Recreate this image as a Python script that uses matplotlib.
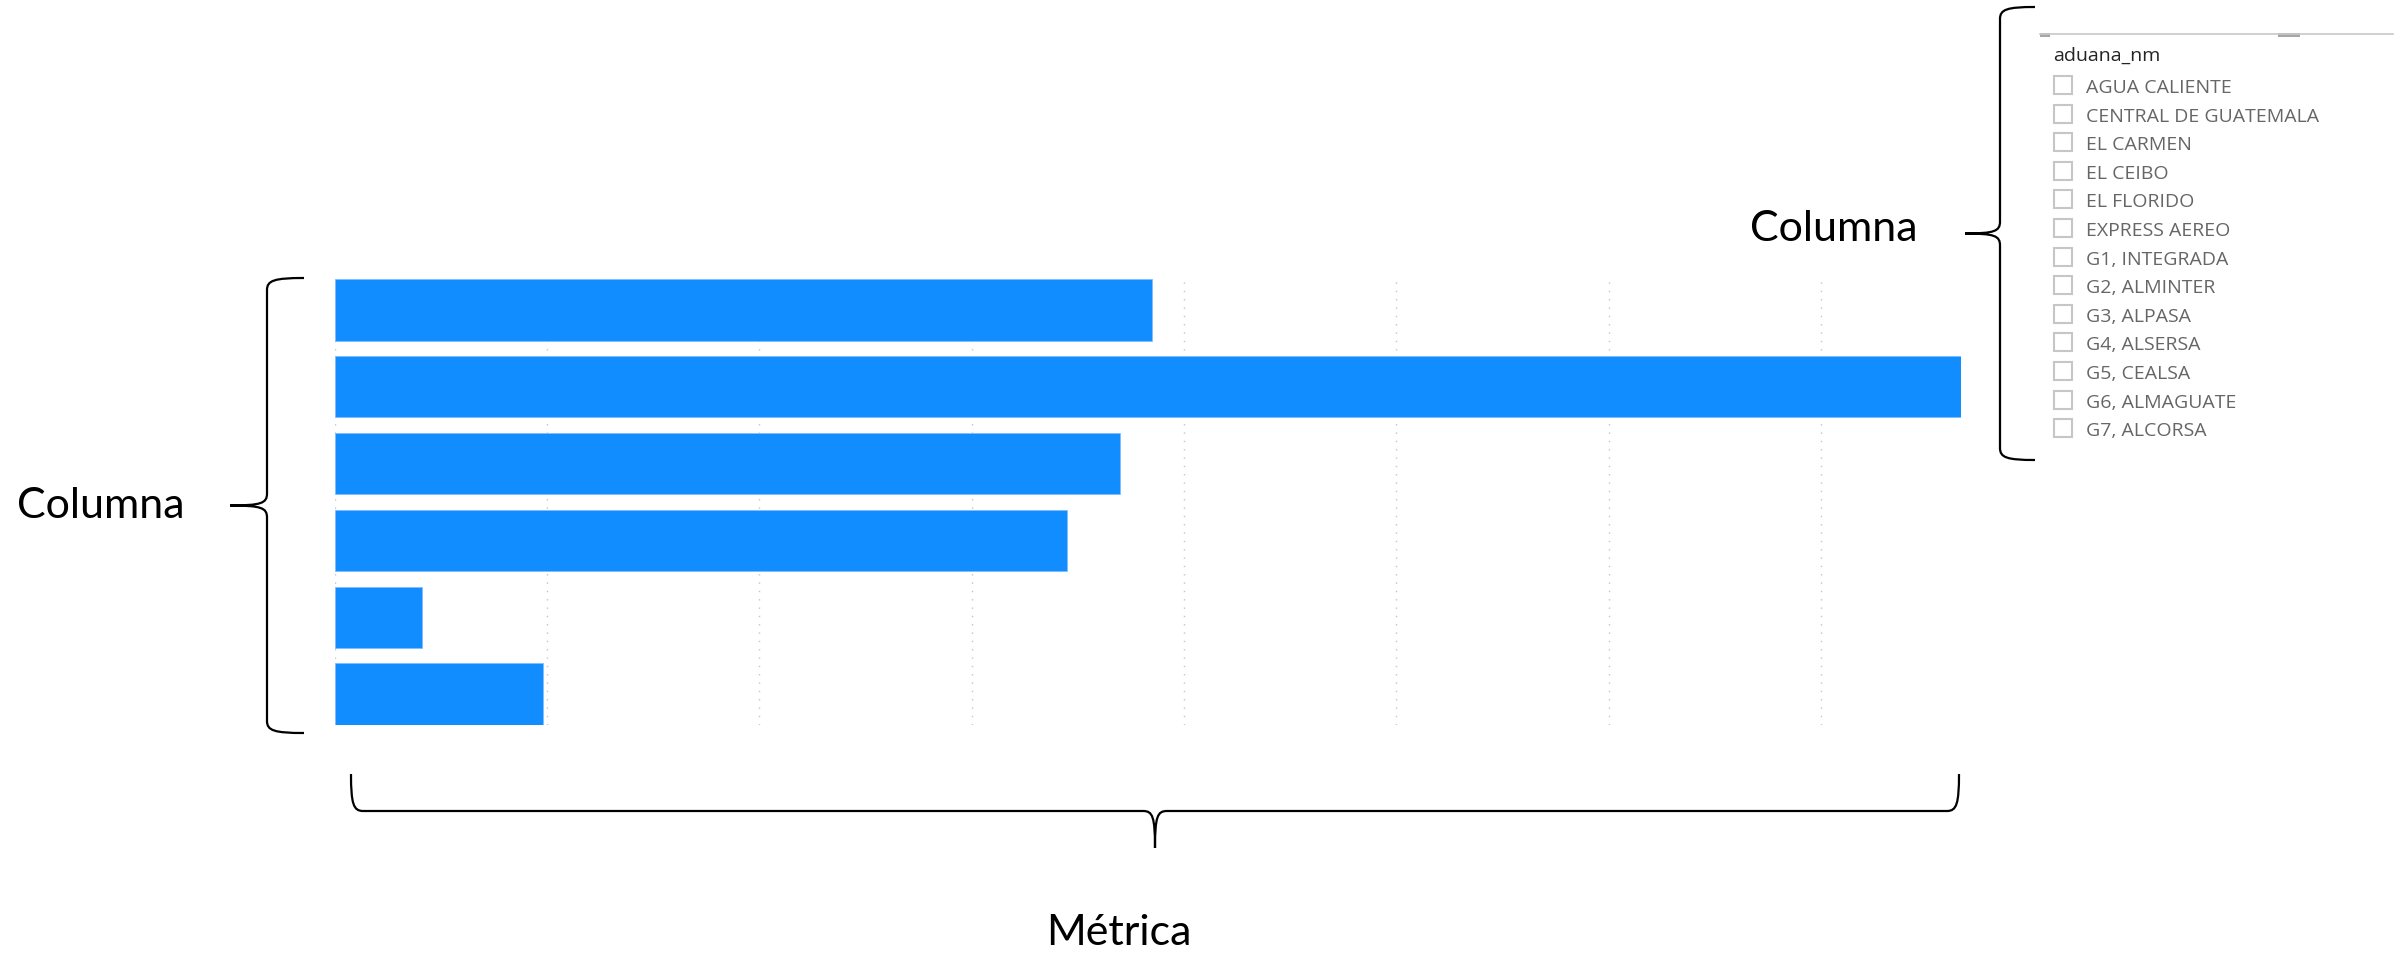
import matplotlib
matplotlib.use("Agg")
import matplotlib.pyplot as plt
from matplotlib.path import Path
from matplotlib.patches import PathPatch, Rectangle
import numpy as np

# data (no tick labels, so one grid step = 100)
rows = [1, 2, 3, 4, 5, 6]
values = [385, 766, 370, 345, 41, 98]
grid_steps = [0, 100, 200, 300, 400, 500, 600, 700]

slicer_title = "aduana_nm"
slicer_items = ["AGUA CALIENTE", "CENTRAL DE GUATEMALA", "EL CARMEN", "EL CEIBO",
                "EL FLORIDO", "EXPRESS AEREO", "G1, INTEGRADA", "G2, ALMINTER",
                "G3, ALPASA", "G4, ALSERSA", "G5, CEALSA", "G6, ALMAGUATE",
                "G7, ALCORSA"]

W, H = 2407, 955
fig = plt.figure(figsize=(W / 100, H / 100), dpi=100)


def fx(x):
    return x / W


def fy(y):
    return 1 - y / H


def brace(p0, p1, normal, w, r=12, lw=1.6):
    # curly brace between two pixel points (y down), tip on the 'normal' side
    p0 = np.array(p0, float)
    p1 = np.array(p1, float)
    L = np.linalg.norm(p1 - p0)
    t = (p1 - p0) / L
    n = np.array(normal, float)
    m = L / 2
    uv = [(0, 0), (0, 0.8 * w), (0.2 * r, w), (r, w),
          (m - r, w),
          (m - 0.2 * r, w), (m, 1.15 * w), (m, 2 * w),
          (m, 1.15 * w), (m + 0.2 * r, w), (m + r, w),
          (L - r, w),
          (L - 0.2 * r, w), (L, 0.8 * w), (L, 0)]
    codes = [Path.MOVETO] + [Path.CURVE4] * 3 + [Path.LINETO] + [Path.CURVE4] * 6 \
        + [Path.LINETO] + [Path.CURVE4] * 3
    verts = []
    for u, v in uv:
        p = p0 + u * t + v * n
        verts.append((fx(p[0]), fy(p[1])))
    patch = PathPatch(Path(verts, codes), fill=False, edgecolor="black", lw=lw,
                      transform=fig.transFigure, capstyle="butt")
    fig.add_artist(patch)


# bar chart
ax = fig.add_axes([334.5 / W, 1 - 725 / H, 1626.5 / W, 446 / H])
ax.barh(rows, values, height=0.8, color="#118DFF", edgecolor="#7fbfff",
        linewidth=0.6, zorder=3)
ax.set_ylim(6.4, 0.6)
ax.set_xlim(0, max(values))
ax.set_xticks(grid_steps)
ax.set_yticks([])
ax.tick_params(length=0, labelbottom=False)
ax.grid(axis="x", color="#c4c4c4", linestyle=(0, (1, 5)), linewidth=1)
ax.set_axisbelow(True)
for s in ax.spines.values():
    s.set_visible(False)

# annotations
big = dict(family="Lato", fontsize=31, color="black")
brace((304, 278), (304, 733), (-1, 0), 37)
fig.text(fx(17), fy(518), "Columna", ha="left", va="baseline", **big)

brace((351, 774), (1959, 774), (0, 1), 37)
fig.text(fx(1119), fy(945), "Métrica", ha="center", va="baseline", **big)

brace((2035, 7), (2035, 460), (-1, 0), 35)
fig.text(fx(1750), fy(241), "Columna", ha="left", va="baseline", **big)

# slicer panel
fig.add_artist(plt.Line2D([fx(2040), fx(2393)], [fy(34), fy(34)], color="#c8c8c8",
                          lw=1.2, transform=fig.transFigure))
for x0, x1 in [(2040, 2050), (2278, 2300)]:
    fig.add_artist(Rectangle((fx(x0), fy(37)), fx(x1 - x0), 4 / H, color="#a6a6a6",
                             transform=fig.transFigure, lw=0))
fig.text(fx(2053), fy(61), slicer_title, family="Open Sans", fontsize=14,
         color="#252423", ha="left", va="baseline")
for i, name in enumerate(slicer_items):
    yc = 85 + i * 28.6
    fig.add_artist(Rectangle((fx(2054), fy(yc + 9)), 18 / W, 18 / H, fill=False,
                             edgecolor="#c8c6c4", lw=1.5, transform=fig.transFigure))
    fig.text(fx(2086), fy(yc + 8), name, family="Open Sans", fontsize=14,
             color="#666666", ha="left", va="baseline")

fig.savefig("out.png", dpi=100, facecolor="white")
